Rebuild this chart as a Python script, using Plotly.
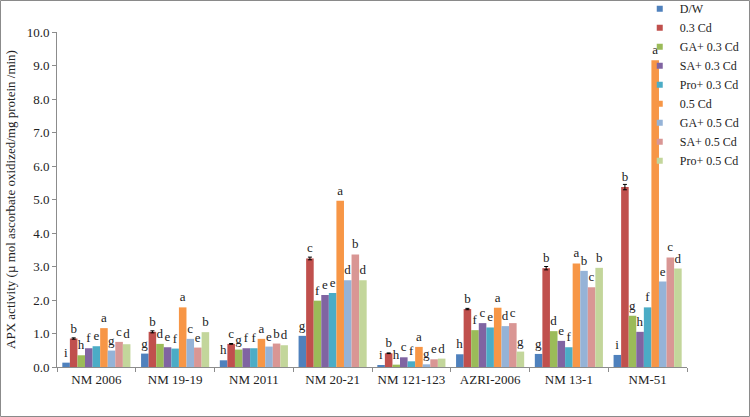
import plotly.graph_objects as go

categories = ["NM 2006", "NM 19-19", "NM 2011", "NM 20-21", "NM 121-123", "AZRI-2006", "NM 13-1", "NM-51"]
series_names = ["D/W", "0.3 Cd", "GA+ 0.3 Cd", "SA+ 0.3 Cd", "Pro+ 0.3 Cd", "0.5 Cd", "GA+ 0.5 Cd", "SA+ 0.5 Cd", "Pro+ 0.5 Cd"]

dw = [0.13, 0.40, 0.20, 0.93, 0.05, 0.38, 0.39, 0.36]
cd03 = [0.85, 1.05, 0.69, 3.24, 0.41, 1.73, 2.95, 5.37]
ga03 = [0.35, 0.69, 0.52, 1.98, 0.07, 1.10, 1.07, 1.53]
sa03 = [0.56, 0.59, 0.56, 2.15, 0.29, 1.31, 0.78, 1.05]
pro03 = [0.62, 0.55, 0.56, 2.21, 0.17, 1.18, 0.59, 1.78]
cd05 = [1.16, 1.78, 0.84, 4.96, 0.60, 1.77, 3.09, 9.16]
ga05 = [0.49, 0.84, 0.61, 2.59, 0.08, 1.22, 2.87, 2.55]
sa05 = [0.75, 0.58, 0.70, 3.36, 0.23, 1.31, 2.38, 3.27]
pro05 = [0.68, 1.04, 0.65, 2.59, 0.25, 0.46, 2.96, 2.94]

err03 = [0.02, 0.03, 0.01, 0.04, 0.01, 0.02, 0.05, 0.08]

letters_dw = ["i", "g", "h", "g", "i", "h", "g", "i"]
letters_cd03 = ["b", "b", "c", "c", "b", "b", "b", "b"]
letters_ga03 = ["h", "d", "g", "f", "h", "f", "d", "g"]
letters_sa03 = ["f", "e", "f", "e", "c", "c", "e", "h"]
letters_pro03 = ["e", "f", "f", "e", "f", "e", "f", "f"]
letters_cd05 = ["a", "a", "a", "a", "a", "a", "a", "a"]
letters_ga05 = ["g", "c", "e", "d", "g", "d", "b", "e"]
letters_sa05 = ["c", "e", "b", "b", "e", "c", "c", "c"]
letters_pro05 = ["d", "b", "d", "d", "d", "g", "b", "d"]

yticks = [0, 1, 2, 3, 4, 5, 6, 7, 8, 9, 10]

values = [dw, cd03, ga03, sa03, pro03, cd05, ga05, sa05, pro05]
letters = [letters_dw, letters_cd03, letters_ga03, letters_sa03, letters_pro03,
           letters_cd05, letters_ga05, letters_sa05, letters_pro05]
colors = ["#4F81BD", "#C0504D", "#9BBB59", "#8064A2", "#4BACC6",
          "#F79646", "#95B3D7", "#D99694", "#C3D69B"]

FONT = "Liberation Serif"

fig = go.Figure()
for i, (name, vals, lets, col) in enumerate(zip(series_names, values, letters, colors)):
    if i == 1:
        ey = dict(type="data", array=err03, visible=True, color="#000000",
                  thickness=1, width=2)
    else:
        ey = dict(visible=False)
    fig.add_trace(go.Bar(
        name=name, x=categories, y=vals, marker_color=col,
        marker_line_width=0, showlegend=False, legendgroup=name,
        error_y=ey,
        text=lets, textposition="outside", constraintext="none", cliponaxis=False,
        textfont=dict(family=FONT, size=13, color="#222222"),
    ))
# legend entries with small square keys
for name, col in zip(series_names, colors):
    fig.add_trace(go.Scatter(
        name=name, x=[None], y=[None], mode="markers", legendgroup=name,
        marker=dict(symbol="square", size=6, color=col), showlegend=True,
    ))

fig.update_layout(
    width=750, height=417,
    barmode="group", bargap=0.135, bargroupgap=0,
    plot_bgcolor="white", paper_bgcolor="white",
    margin=dict(l=57, r=63, t=32, b=50, autoexpand=False),
    font=dict(family=FONT, size=13, color="#222222"),
    showlegend=True,
    legend=dict(xref="container", yref="paper", x=0.853, y=1.113,
                xanchor="left", yanchor="top",
                font=dict(family=FONT, size=12, color="#222222"),
                bgcolor="rgba(0,0,0,0)", itemwidth=30, tracegroupgap=0),
)
fig.update_xaxes(
    type="category", showline=True, linecolor="#8c8c8c", linewidth=1,
    ticks="outside", tickson="boundaries", ticklen=4, tickcolor="#8c8c8c",
    tickangle=0, automargin=False,
    tickfont=dict(family=FONT, size=13, color="#222222"), showgrid=False,
)
fig.update_yaxes(
    range=[0, 10], tickvals=yticks, tickformat=".1f",
    showline=True, linecolor="#8c8c8c", linewidth=1, automargin=False,
    ticks="outside", ticklen=4, tickcolor="#8c8c8c", showgrid=False, zeroline=False,
    tickfont=dict(family=FONT, size=13, color="#222222"),
    title=dict(text="APX activity (µ mol ascorbate oxidized/mg protein /min)",
               font=dict(family=FONT, size=13, color="#222222"), standoff=8),
)
fig.add_shape(type="rect", xref="paper", yref="paper",
              x0=-0.0897, x1=1.0992, y0=-0.1478, y1=1.094,
              line=dict(color="#8a8a8a", width=1), fillcolor="rgba(0,0,0,0)", layer="below")

fig.write_html("out.html", config={"displayModeBar": False},
               post_script="document.body.style.margin='0';")
